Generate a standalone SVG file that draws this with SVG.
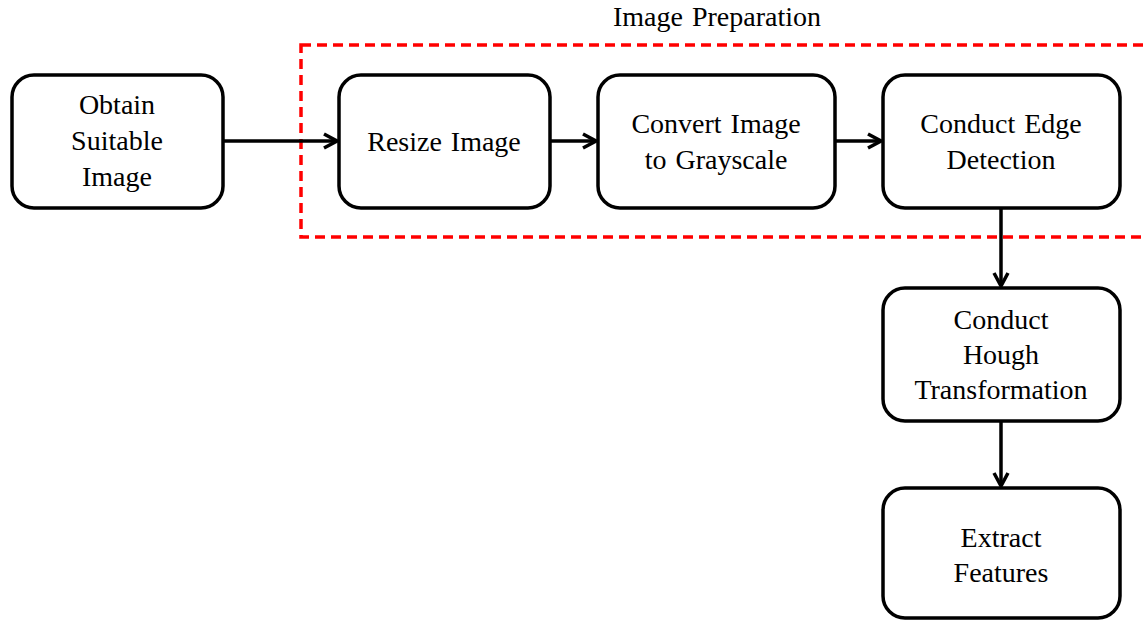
<svg xmlns="http://www.w3.org/2000/svg" width="1145" height="621" viewBox="0 0 1145 621">
<style>
.box{fill:#fff;stroke:#000;stroke-width:3.5}
.t{font-family:"Liberation Serif","Times New Roman",serif;font-size:28px;fill:#000;text-anchor:middle;word-spacing:2px}
.c{stroke:#000;stroke-width:3.5;fill:none}
</style>
<defs>
<marker id="ah" viewBox="0 0 16 18" refX="15" refY="9" markerWidth="16" markerHeight="18" markerUnits="userSpaceOnUse" orient="auto">
<path d="M2,2 L15,9 L2,16" fill="none" stroke="#000" stroke-width="3.5"/>
</marker>
</defs>
<rect width="1145" height="621" fill="#fff"/>
<g id="group-prep">
<rect x="301" y="45" width="860" height="192" fill="none" stroke="#f00" stroke-width="3.5" stroke-dasharray="10,6"/>
<text class="t" x="717" y="26">Image Preparation</text>
</g>
<g id="connectors">
<line class="c" x1="223" y1="141" x2="337" y2="141" marker-end="url(#ah)"/>
<line class="c" x1="550" y1="141" x2="596" y2="141" marker-end="url(#ah)"/>
<line class="c" x1="835" y1="141" x2="881" y2="141" marker-end="url(#ah)"/>
<line class="c" x1="1001" y1="208" x2="1001" y2="286" marker-end="url(#ah)"/>
<line class="c" x1="1001" y1="421" x2="1001" y2="486" marker-end="url(#ah)"/>
</g>
<g id="obtain">
<rect class="box" x="12" y="75" width="211" height="133" rx="22"/>
<text class="t" x="117" y="114">Obtain</text>
<text class="t" x="117" y="150">Suitable</text>
<text class="t" x="117" y="186">Image</text>
</g>
<g id="resize">
<rect class="box" x="339" y="75" width="211" height="133" rx="22"/>
<text class="t" x="444" y="151">Resize Image</text>
</g>
<g id="grayscale">
<rect class="box" x="598" y="75" width="237" height="133" rx="22"/>
<text class="t" x="716" y="133">Convert Image</text>
<text class="t" x="716" y="169">to Grayscale</text>
</g>
<g id="edge">
<rect class="box" x="883" y="75" width="237" height="133" rx="22"/>
<text class="t" x="1001" y="133">Conduct Edge</text>
<text class="t" x="1001" y="169">Detection</text>
</g>
<g id="hough">
<rect class="box" x="883" y="288" width="237" height="133" rx="22"/>
<text class="t" x="1001" y="329">Conduct</text>
<text class="t" x="1001" y="364">Hough</text>
<text class="t" x="1001" y="399">Transformation</text>
</g>
<g id="extract">
<rect class="box" x="883" y="488" width="237" height="130" rx="22"/>
<text class="t" x="1001" y="547">Extract</text>
<text class="t" x="1001" y="582">Features</text>
</g>
</svg>
